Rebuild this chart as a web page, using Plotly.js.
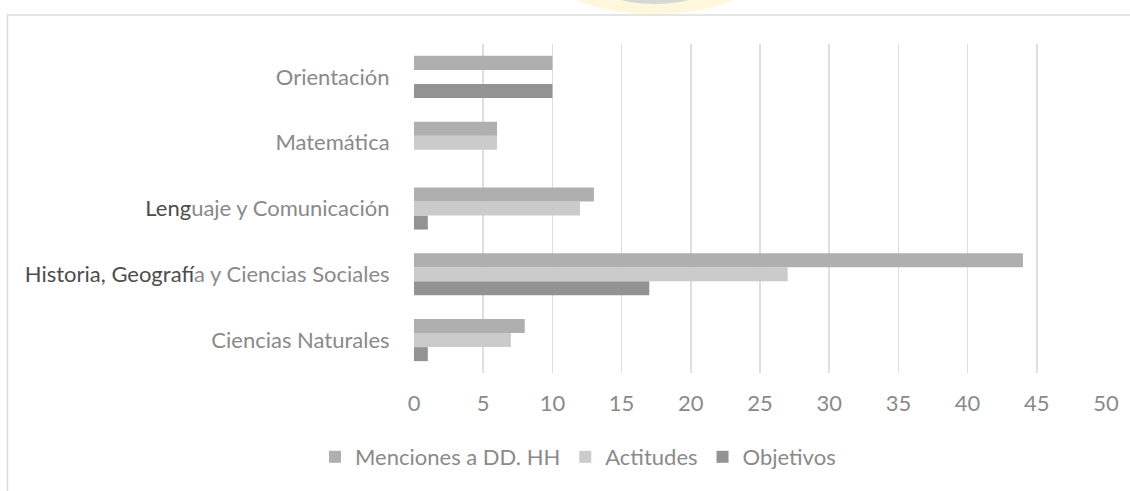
<!DOCTYPE html>
<html>
<head>
<meta charset="utf-8">
<script src="https://cdn.plot.ly/plotly-3.0.1.min.js"></script>
<style>html,body{margin:0;padding:0;background:#fff;}#chart{width:1130px;height:491px;}</style>
</head>
<body>
<div id="chart"></div>
<script>
// Data (bottom-to-top category order)
var categories = ["Ciencias Naturales", "Historia, Geografía y Ciencias Sociales", "Lenguaje y Comunicación", "Matemática", "Orientación"];
var categoryLabels = [
  "Ciencias Naturales",
  "<span style='fill:#4d4d4d'>Historia, Geograf</span>ía y Ciencias Sociales",
  "<span style='fill:#4d4d4d'>Leng</span>uaje y Comunicación",
  "Matemática",
  "Orientación"
];
var menciones = [8, 44, 13, 6, 10];
var actitudes = [7, 27, 12, 6, 0];
var objetivos = [1, 17, 1, 0, 10];
var xTicks = [0, 5, 10, 15, 20, 25, 30, 35, 40, 45, 50];

var W = 1130, H = 491;
var mL = 414, mR = 24, mT = 44, mB = 118;
var pw = W - mL - mR, ph = H - mT - mB;
function px(x) { return (x - mL) / pw; }
function py(y) { return (H - mB - y) / ph; }

var font = "Lato, 'Liberation Sans', sans-serif";
var traces = [
  {type: 'bar', orientation: 'h', name: 'Objetivos', y: categories, x: objetivos, marker: {color: '#939393'}},
  {type: 'bar', orientation: 'h', name: 'Actitudes', y: categories, x: actitudes, marker: {color: '#cbcbcb'}},
  {type: 'bar', orientation: 'h', name: 'Menciones a DD. HH', y: categories, x: menciones, marker: {color: '#afafaf'}}
];

var layout = {
  width: W, height: H,
  margin: {l: mL, r: mR, t: mT, b: mB, pad: 0},
  paper_bgcolor: '#ffffff', plot_bgcolor: '#ffffff',
  barmode: 'group', bargap: 0.36, bargroupgap: 0,
  font: {family: font, size: 22, color: '#8a8a8a'},
  showlegend: true,
  legend: {orientation: 'h', traceorder: 'reversed', x: px(578), xanchor: 'center', y: py(457), yanchor: 'middle',
           font: {family: font, size: 22, color: '#8a8a8a'}, itemwidth: 30, tracegroupgap: 0},
  xaxis: {range: [0, 50], tickvals: xTicks, ticktext: xTicks.map(String), showgrid: true, gridcolor: '#dedede', gridwidth: 1.5,
          zeroline: false, showline: false, ticks: 'outside', ticklen: 11, tickcolor: 'rgba(0,0,0,0)', fixedrange: true},
  yaxis: {type: 'category', categoryorder: 'array', categoryarray: categories, tickvals: categories, ticktext: categoryLabels,
          showgrid: false, zeroline: false, showline: false, ticks: 'outside', ticklen: 19, tickcolor: 'rgba(0,0,0,0)'},
  shapes: [
    {type: 'circle', xref: 'paper', yref: 'paper', x0: px(555), x1: px(755), y0: py(14), y1: py(-60), fillcolor: 'rgba(255,228,140,0.3)', line: {width: 0}, layer: 'below'},
    {type: 'circle', xref: 'paper', yref: 'paper', x0: px(590), x1: px(720), y0: py(4), y1: py(-50), fillcolor: 'rgba(160,180,205,0.45)', line: {width: 0}, layer: 'below'},
    {type: 'line', xref: 'paper', yref: 'paper', x0: px(7.5), x1: px(7.5), y0: py(15), y1: py(491), line: {color: '#d9d9d9', width: 1.5}},
    {type: 'line', xref: 'paper', yref: 'paper', x0: px(7), x1: px(1130), y0: py(15), y1: py(15), line: {color: '#dcdcdc', width: 1.5}}
  ]
};

Plotly.newPlot('chart', traces, layout, {displayModeBar: false, staticPlot: true});
</script>
</body>
</html>
